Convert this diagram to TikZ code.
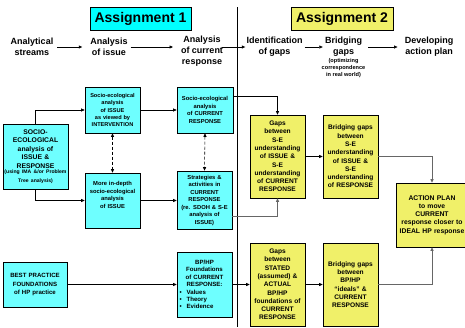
\documentclass[tikz,border=0pt]{standalone}
\usepackage{fontspec}
\setmainfont{Liberation Sans}
\usetikzlibrary{arrows.meta,shadows}
\definecolor{cyA}{RGB}{0,255,255}
\definecolor{cyB}{RGB}{110,255,255}
\definecolor{yel}{RGB}{240,240,105}
\newcommand{\fsz}[2]{\fontsize{#1pt}{#2pt}\selectfont\bfseries}
\tikzset{
  box/.style={draw, line width=0.6pt, align=center, inner sep=0pt,
    drop shadow={shadow xshift=0.8pt,shadow yshift=-0.8pt,fill=black!45,opacity=1}},
  cbox/.style={box, fill=cyB},
  ybox/.style={box, fill=yel},
  hdr/.style={align=center, inner sep=0pt, font=\fsz{9}{10.8}},
  arr/.style={-{Triangle[length=3.5pt,width=3pt]}, line width=0.6pt},
  darr/.style={{Triangle[length=3.5pt,width=3pt]}-{Triangle[length=3.5pt,width=3pt]},
    dash pattern=on 3pt off 2pt, line width=0.6pt},
  garr/.style={-{Triangle[length=3.5pt,width=3pt]}, line width=1pt, draw=black!60},
}
\begin{document}
\begin{tikzpicture}[x=1pt,y=-1pt]
\useasboundingbox (0,0) rectangle (465,327);
% assignment titles
\node[box, fill=cyA, minimum width=101pt, minimum height=23pt, font=\fsz{14}{16}] (as1) at (140.5,19) {Assignment 1};
\node[box, fill=yel, minimum width=102pt, minimum height=23pt, font=\fsz{14}{16}] (as2) at (342,19) {Assignment 2};
% vertical divider
\coordinate (vtop) at (237,7);
\coordinate (vbot) at (237,327);
\draw[line width=1pt] (vtop) -- (vbot);
% headers
\node[hdr] (h1) at (32,47) {Analytical\\streams};
\node[hdr] (h2) at (109,47) {Analysis\\of issue};
\node[hdr, anchor=north] (h3) at (202,36) {Analysis\\of current\\response};
\node[hdr] (h4) at (274.5,47) {Identification\\of gaps};
\node[hdr] (h5) at (343.5,47) {Bridging\\gaps};
\node[align=center, inner sep=0pt, font=\fsz{5.6}{7}, anchor=north] (h5s) at (343.5,58.5) {(optimizing\\correspondence\\in real world)};
\node[hdr] (h6) at (429,47) {Developing\\action plan};
\coordinate (h3e) at (222,47);
\draw[arr] ([xshift=4pt]h1.east) -- ([xshift=-8pt]h2.west);
\draw[arr] ([xshift=3pt]h2.east) -- (173,47);
\draw[arr] (h3e) -- ([xshift=-1pt]h4.west);
\draw[arr] ([xshift=2pt]h4.east) -- ([xshift=-2pt]h5.west);
\draw[arr] ([xshift=6pt]h5.east) -- ([xshift=-7pt]h6.west);
% boxes
\node[cbox, minimum width=55pt, minimum height=46pt, text width=53pt, font=\fsz{5.6}{7.4}] (b1) at (112.5,110)
  {Socio-ecological\\analysis\\of ISSUE\\as viewed by\\INTERVENTION};
\node[cbox, minimum width=56pt, minimum height=46pt, text width=54pt, font=\fsz{5.8}{7.4}] (b2) at (205,110)
  {Socio-ecological\\analysis\\of CURRENT\\RESPONSE};
\node[cbox, minimum width=65pt, minimum height=65pt, text width=63pt, font=\fsz{6.8}{8.5}] (soc) at (35.5,156.5)
  {SOCIO-\\ECOLOGICAL\\analysis of\\ISSUE \&\\RESPONSE\\[-1.5pt]{\fsz{5.1}{7}(using IMA \&/or Problem\\Tree analysis)}};
\node[cbox, minimum width=55pt, minimum height=55pt, text width=53pt, font=\fsz{5.8}{7.6}] (b3) at (112.5,200.5)
  {More in-depth\\socio-ecological\\analysis\\of ISSUE\\[4pt]\mbox{}};
\node[cbox, minimum width=55pt, minimum height=58pt, text width=53pt, font=\fsz{5.8}{7.5}] (b4) at (204.5,200)
  {Strategies \&\\activities in\\CURRENT\\RESPONSE\\(re. SDOH \& S-E\\analysis of\\ISSUE)};
\node[ybox, minimum width=55pt, minimum height=83pt, text width=54pt, font=\fsz{6.6}{8.3}] (g1) at (277.5,156.5)
  {Gaps\\between\\S-E\\understanding\\of ISSUE \&\\S-E\\understanding\\of CURRENT\\RESPONSE};
\node[ybox, minimum width=55pt, minimum height=83pt, text width=54pt, font=\fsz{6.6}{8.3}] (r1) at (350.5,156.5)
  {Bridging gaps\\between\\S-E\\understanding\\of ISSUE \&\\S-E\\understanding\\of RESPONSE};
\node[ybox, minimum width=72pt, minimum height=64pt, text width=71pt, font=\fsz{6.8}{8.3}] (ap) at (432,215)
  {ACTION PLAN\\to move\\CURRENT\\response closer to\\IDEAL HP response};
\node[cbox, minimum width=64pt, minimum height=45pt, text width=62pt, font=\fsz{6.1}{8.5}] (bp) at (35,284.5)
  {BEST PRACTICE\\FOUNDATIONS\\of HP practice};
\node[cbox, minimum width=55pt, minimum height=65pt, text width=53pt, font=\fsz{6.1}{7.4}] (bh) at (204.5,284.5)
  {BP/HP\\Foundations\\of CURRENT\\RESPONSE:\\
   \makebox[50pt][l]{\textbullet\hspace{5pt}Values}\\
   \makebox[50pt][l]{\textbullet\hspace{5pt}Theory}\\
   \makebox[50pt][l]{\textbullet\hspace{5pt}Evidence}};
\node[ybox, minimum width=55pt, minimum height=83pt, text width=54pt, font=\fsz{6.6}{8.3}] (g2) at (277.5,284.5)
  {Gaps\\between\\STATED\\(assumed) \&\\ACTUAL\\BP/HP\\foundations of\\CURRENT\\RESPONSE};
\node[ybox, minimum width=55pt, minimum height=83pt, text width=54pt, font=\fsz{6.6}{8.3}] (r2) at (350.5,284.5)
  {Bridging gaps\\between\\BP/HP\\“ideals” \&\\CURRENT\\RESPONSE};
% connectors
\draw[arr] (soc.north) |- (b1.west);
\draw[arr] (soc.south) |- (b3.west);
\draw[arr] (b1.east) -- (b2.west);
\draw[arr] (b3.east) -- (b3.east -| b4.west);
\draw[darr] (b1.south) -- (b3.north);
\draw[darr] (b2.south) -- (b4.north);
\draw[arr] ([yshift=14pt]b2.east) -| (g1.north);
\draw[garr] ([yshift=-16pt]b4.east) -| (g1.south);
\draw[arr] (g1.east) -- (r1.west);
\draw[garr] (r1.east) -| (ap.north);
\draw[arr] (bp.east) -- (bh.west);
\draw[arr] (bh.east) -- (g2.west);
\draw[arr] (g2.east) -- (r2.west);
\draw[garr] (r2.east) -| (ap.south);
\end{tikzpicture}
\end{document}
